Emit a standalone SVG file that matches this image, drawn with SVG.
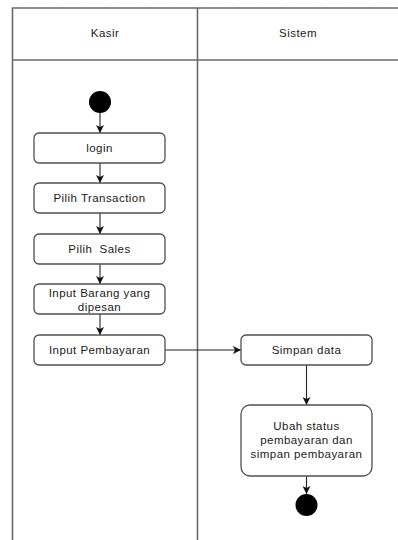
<svg xmlns="http://www.w3.org/2000/svg" width="398" height="540" viewBox="0 0 398 540">
  <style>
    text { font-family: "Liberation Sans", Arial, sans-serif; font-size: 11.5px; letter-spacing: 0.45px; fill: #1a1a1a; text-anchor: middle; white-space: pre; }
    .lane { fill: none; stroke: #6a6a6a; stroke-width: 1.6; }
    .act { fill: #ffffff; stroke: #505050; stroke-width: 1.3; }
    .dot { fill: #000000; }
    .edge { fill: none; stroke: #222222; stroke-width: 1.1; marker-end: url(#arrow); }
  </style>
  <defs>
    <marker id="arrow" viewBox="0 0 10 10" refX="10" refY="5" markerWidth="8" markerHeight="8" markerUnits="userSpaceOnUse" orient="auto">
      <path d="M0,0 L10,5 L0,10 L2.5,5 Z" fill="#111111"/>
    </marker>
  </defs>
  <rect width="398" height="540" fill="#ffffff"/>
  <!-- ruler ticks along the top edge -->
  <line x1="12" y1="4.5" x2="398" y2="4.5" stroke="#e4e4e4" stroke-width="1" stroke-dasharray="1 10"/>

  <!-- swimlanes -->
  <g id="lanes">
    <path class="lane" d="M12.5,540 V8 H398"/>
    <path class="lane" d="M12.5,60 H398"/>
    <path class="lane" d="M197.5,8 V540"/>
    <text x="105" y="37">Kasir</text>
    <text x="298" y="37">Sistem</text>
  </g>

  <g id="connectors">
    <path class="edge" d="M100,113 V133"/>
    <path class="edge" d="M100,163 V183"/>
    <path class="edge" d="M100,213 V234"/>
    <path class="edge" d="M100,264 V284"/>
    <path class="edge" d="M100,314 V335"/>
    <path class="edge" d="M165,350 H241"/>
    <path class="edge" d="M306.5,365 V405"/>
    <path class="edge" d="M306.5,476 V494"/>
  </g>

  <g id="start"><circle class="dot" cx="100" cy="102" r="11"/></g>

  <g id="login">
    <rect class="act" x="34" y="133" width="131" height="30" rx="5"/>
    <text x="99.5" y="152">login</text>
  </g>
  <g id="pilih-transaction">
    <rect class="act" x="34" y="183" width="131" height="30" rx="5"/>
    <text x="99.5" y="202">Pilih Transaction</text>
  </g>
  <g id="pilih-sales">
    <rect class="act" x="34" y="234" width="131" height="30" rx="5"/>
    <text x="99.5" y="253">Pilih  Sales</text>
  </g>
  <g id="input-barang">
    <rect class="act" x="34" y="284" width="131" height="30" rx="5"/>
    <text x="99.5" y="297">Input Barang yang</text>
    <text x="99.5" y="311">dipesan</text>
  </g>
  <g id="input-pembayaran">
    <rect class="act" x="34" y="335" width="131" height="30" rx="5"/>
    <text x="99.5" y="354">Input Pembayaran</text>
  </g>
  <g id="simpan-data">
    <rect class="act" x="241" y="335" width="131" height="30" rx="5"/>
    <text x="306.5" y="354">Simpan data</text>
  </g>
  <g id="ubah-status">
    <rect class="act" x="241" y="405" width="131" height="71" rx="9"/>
    <text x="306.5" y="430">Ubah status</text>
    <text x="306.5" y="444">pembayaran dan</text>
    <text x="306.5" y="458">simpan pembayaran</text>
  </g>

  <g id="end"><circle class="dot" cx="306.5" cy="505" r="11"/></g>
</svg>
